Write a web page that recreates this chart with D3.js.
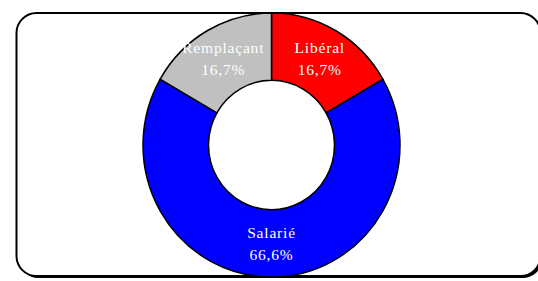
<!DOCTYPE html>
<html>
<head>
<meta charset="utf-8">
<script src="https://cdn.jsdelivr.net/npm/d3@7"></script>
<style>
  body { margin: 0; background: #fff; }
  svg { display: block; }
</style>
</head>
<body>
<div id="chart"></div>
<script>
var width = 538;
var height = 281;

// data
var categories = ["Libéral", "Salarié", "Remplaçant"];
var values = [16.7, 66.6, 16.7];
var valueLabels = ["16,7%", "66,6%", "16,7%"];
var colors = ["#ff0000", "#0000ff", "#c0c0c0"];

var svg = d3.select("#chart")
    .append("svg")
    .attr("width", width)
    .attr("height", height);

// frame with a small shadow
svg.append("rect")
    .attr("x", 18.5).attr("y", 15)
    .attr("width", 524).attr("height", 263)
    .attr("rx", 20).attr("ry", 20)
    .attr("fill", "#000");
svg.append("rect")
    .attr("x", 16.5).attr("y", 13)
    .attr("width", 524).attr("height", 263)
    .attr("rx", 20).attr("ry", 20)
    .attr("fill", "#fff")
    .attr("stroke", "#000")
    .attr("stroke-width", 2);

var cx = 271.5, cy = 145;
var rx = 128.5, ry = 132;

var pie = d3.pie().sort(null).value(function(d) { return d; });
var arcs = pie(values);

// unit donut, stretched to the slightly tall ellipse
var arc = d3.arc().innerRadius(0.49).outerRadius(1);

var g = svg.append("g")
    .attr("transform", "translate(" + cx + "," + cy + ") scale(" + rx + "," + ry + ")");

g.selectAll("path")
    .data(arcs)
    .enter()
    .append("path")
    .attr("d", arc)
    .attr("fill", function(d, i) { return colors[i]; })
    .attr("stroke", "#000")
    .attr("stroke-width", 1.5)
    .attr("vector-effect", "non-scaling-stroke");

var labelArc = d3.arc().innerRadius(0.75).outerRadius(0.75);

var labels = svg.selectAll(".lbl")
    .data(arcs)
    .enter()
    .append("text")
    .attr("class", "lbl")
    .attr("font-family", "'Liberation Serif', 'Times New Roman', serif")
    .attr("font-size", 15.5)
    .attr("letter-spacing", 0.8)
    .attr("fill", "#fff")
    .attr("text-anchor", "middle")
    .attr("transform", function(d) {
        var c = labelArc.centroid(d);
        return "translate(" + (cx + c[0] * rx) + "," + (cy + c[1] * ry) + ")";
    });

labels.append("tspan")
    .attr("x", 0).attr("y", -6)
    .text(function(d, i) { return categories[i]; });
labels.append("tspan")
    .attr("x", 0).attr("y", 16)
    .text(function(d, i) { return valueLabels[i]; });
</script>
</body>
</html>
